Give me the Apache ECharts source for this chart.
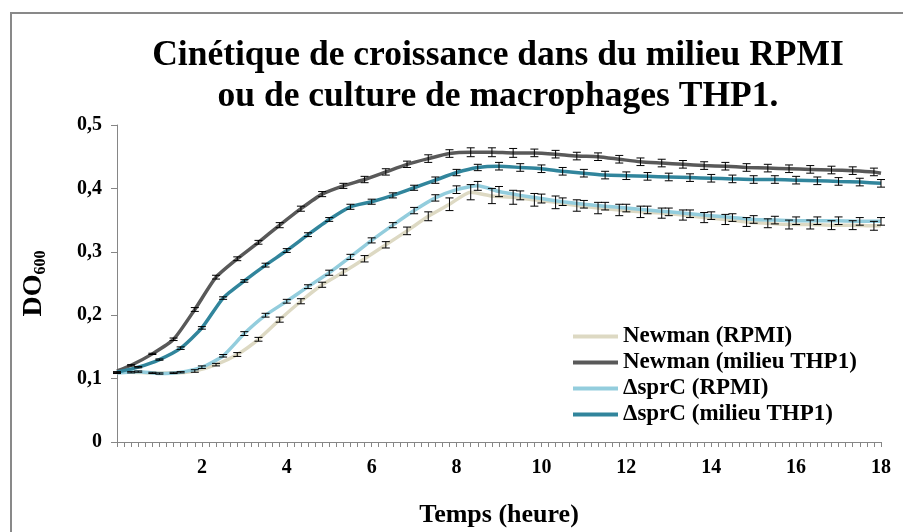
<!DOCTYPE html>
<html>
<head>
<meta charset="utf-8">
<title>Cinétique de croissance</title>
<script src="https://cdn.jsdelivr.net/npm/echarts@6/dist/echarts.min.js"></script>
<style>
  html, body { margin: 0; padding: 0; background: #ffffff; }
  #chart { width: 903px; height: 532px; }
</style>
</head>
<body>
<div id="chart"></div>
<script>
// Sampling times (minutes) at which each strain's mean and SD are reported
const MIN_NEWMAN = [0, 20, 50, 80, 110, 140, 170, 200, 230, 260, 290, 320, 350, 380, 410, 440, 470, 500, 530,
  560, 590, 620, 650, 680, 710, 740, 770, 800, 830, 860, 890, 920, 950, 980, 1010, 1040, 1070, 1080];
const MIN_SPRC = [0, 30, 60, 90, 120, 150, 180, 210, 240, 270, 300, 330, 360, 390, 420, 450, 480, 510, 540,
  570, 600, 630, 660, 690, 720, 750, 780, 810, 840, 870, 900, 930, 960, 990, 1020, 1050, 1080];

// OD600 means
const NEWMAN_RPMI = [0.110, 0.110, 0.109, 0.109, 0.112, 0.122, 0.138, 0.162, 0.193, 0.222, 0.248, 0.268, 0.289,
  0.311, 0.333, 0.356, 0.375, 0.394, 0.388, 0.386, 0.382, 0.378, 0.373, 0.369, 0.366, 0.363, 0.361, 0.358,
  0.354, 0.351, 0.347, 0.345, 0.343, 0.343, 0.342, 0.342, 0.341, 0.341];
const NEWMAN_THP1 = [0.112, 0.121, 0.139, 0.162, 0.209, 0.260, 0.289, 0.315, 0.342, 0.368, 0.391, 0.404, 0.414,
  0.426, 0.438, 0.447, 0.455, 0.457, 0.457, 0.456, 0.456, 0.454, 0.451, 0.450, 0.446, 0.442, 0.440, 0.438,
  0.436, 0.435, 0.433, 0.432, 0.431, 0.430, 0.429, 0.428, 0.426, 0.424];
const SPRC_RPMI = [0.109, 0.111, 0.108, 0.110, 0.118, 0.136, 0.171, 0.200, 0.222, 0.245, 0.267, 0.292, 0.318,
  0.342, 0.365, 0.385, 0.398, 0.404, 0.395, 0.389, 0.384, 0.379, 0.375, 0.372, 0.369, 0.366, 0.363, 0.360,
  0.357, 0.354, 0.351, 0.350, 0.349, 0.349, 0.349, 0.348, 0.348];
const SPRC_THP1 = [0.110, 0.118, 0.130, 0.148, 0.180, 0.227, 0.254, 0.279, 0.302, 0.327, 0.351, 0.371, 0.379,
  0.389, 0.401, 0.413, 0.425, 0.433, 0.435, 0.433, 0.431, 0.427, 0.424, 0.421, 0.420, 0.419, 0.418, 0.417,
  0.416, 0.415, 0.414, 0.414, 0.413, 0.412, 0.411, 0.410, 0.408];

// Standard deviations (0 = no error bar)
const NEWMAN_RPMI_SD = [0, 0.001, 0.001, 0.001, 0.002, 0.002, 0.003, 0.003, 0.004, 0.004, 0.004, 0.005, 0.005,
  0.005, 0.006, 0.007, 0.010, 0.012, 0.012, 0.011, 0.010, 0.010, 0.009, 0.009, 0.009, 0.009, 0.008, 0.008,
  0.008, 0.008, 0.007, 0.007, 0.007, 0.007, 0.007, 0.007, 0.007, 0];
const NEWMAN_THP1_SD = [0, 0.001, 0.001, 0.002, 0.003, 0.003, 0.003, 0.003, 0.004, 0.004, 0.004, 0.004, 0.005,
  0.005, 0.005, 0.006, 0.006, 0.007, 0.007, 0.007, 0.006, 0.006, 0.006, 0.006, 0.006, 0.006, 0.006, 0.006,
  0.006, 0.006, 0.006, 0.006, 0.006, 0.006, 0.006, 0.006, 0.006, 0];
const SPRC_RPMI_SD = [0.001, 0.001, 0.001, 0.001, 0.002, 0.002, 0.003, 0.003, 0.003, 0.003, 0.004, 0.004, 0.004,
  0.004, 0.005, 0.005, 0.006, 0.007, 0.008, 0.007, 0.007, 0.006, 0.006, 0.006, 0.006, 0.006, 0.006, 0.006,
  0.006, 0.006, 0.006, 0.006, 0.006, 0.006, 0.006, 0.006, 0.006];
const SPRC_THP1_SD = [0.001, 0.001, 0.001, 0.002, 0.002, 0.002, 0.002, 0.003, 0.003, 0.003, 0.003, 0.004, 0.004,
  0.004, 0.004, 0.005, 0.005, 0.005, 0.006, 0.006, 0.006, 0.006, 0.006, 0.006, 0.006, 0.006, 0.006, 0.006,
  0.006, 0.006, 0.006, 0.006, 0.006, 0.006, 0.006, 0.006, 0.006];

const X_TICKS = [2, 4, 6, 8, 10, 12, 14, 16, 18];

const SERIES_DEF = [
  { name: 'Newman (RPMI)',        color: '#ddd9c3', t: MIN_NEWMAN, v: NEWMAN_RPMI, sd: NEWMAN_RPMI_SD },
  { name: 'Newman (milieu THP1)', color: '#595959', t: MIN_NEWMAN, v: NEWMAN_THP1, sd: NEWMAN_THP1_SD },
  { name: '\u0394sprC (RPMI)',     color: '#93cddd', t: MIN_SPRC,   v: SPRC_RPMI,   sd: SPRC_RPMI_SD },
  { name: '\u0394sprC (milieu THP1)', color: '#31859c', t: MIN_SPRC, v: SPRC_THP1,  sd: SPRC_THP1_SD }
];

const FONT = '"Liberation Serif", "Times New Roman", serif';

function errorBarItem(params, api) {
  const x = api.value(0), y = api.value(1), e = api.value(2);
  if (!(e > 0)) return null;
  const top = api.coord([x, y + e]);
  const bot = api.coord([x, y - e]);
  const hw = 4;
  const st = { stroke: '#000000', lineWidth: 1 };
  return {
    type: 'group',
    children: [
      { type: 'line', shape: { x1: top[0], y1: top[1], x2: bot[0], y2: bot[1] }, style: st },
      { type: 'line', shape: { x1: top[0] - hw, y1: top[1], x2: top[0] + hw, y2: top[1] }, style: st },
      { type: 'line', shape: { x1: bot[0] - hw, y1: bot[1], x2: bot[0] + hw, y2: bot[1] }, style: st }
    ]
  };
}

const series = [];
SERIES_DEF.forEach(function (s) {
  series.push({
    name: s.name,
    type: 'line',
    data: s.t.map(function (m, i) { return [m / 60, s.v[i]]; }),
    showSymbol: false,
    smooth: 0.2,
    lineStyle: { color: s.color, width: 3.5 },
    itemStyle: { color: s.color },
    z: 2,
    silent: true
  });
});
SERIES_DEF.forEach(function (s) {
  series.push({
    type: 'custom',
    renderItem: errorBarItem,
    data: s.t.map(function (m, i) { return [m / 60, s.v[i], s.sd[i]]; }),
    encode: { x: 0, y: 1 },
    z: 3,
    silent: true
  });
});

const chart = echarts.init(document.getElementById('chart'), null, { renderer: 'canvas' });
chart.setOption({
  backgroundColor: '#ffffff',
  animation: false,
  title: {
    text: 'Cinétique de croissance dans du milieu RPMI\nou de culture de macrophages THP1.',
    left: 493,
    top: 30,
    textAlign: 'center',
    textStyle: { fontFamily: FONT, fontWeight: 'bold', fontSize: 35.5, lineHeight: 41, color: '#000000' }
  },
  graphic: [{
    type: 'rect',
    shape: { x: 11, y: 13, width: 910, height: 540 },
    style: { fill: 'none', stroke: '#898989', lineWidth: 2 },
    silent: true
  }],
  legend: {
    orient: 'vertical',
    left: 568,
    top: 320,
    icon: 'rect',
    itemWidth: 45,
    itemHeight: 4,
    itemGap: 3,
    textStyle: { fontFamily: FONT, fontWeight: 'bold', fontSize: 23, lineHeight: 23, color: '#000000' },
    data: SERIES_DEF.map(function (s) { return s.name; })
  },
  grid: { left: 117, right: 22, top: 125, bottom: 90, containLabel: false, outerBoundsMode: 'none' },
  xAxis: {
    type: 'value',
    min: 0,
    max: 18,
    interval: 2,
    name: 'Temps (heure)',
    nameLocation: 'middle',
    nameGap: 60,
    nameTextStyle: { fontFamily: FONT, fontWeight: 'bold', fontSize: 26, color: '#000000' },
    axisLine: { show: true, lineStyle: { color: '#868686', width: 1 } },
    axisTick: { show: true, length: 5, lineStyle: { color: '#868686' } },
    minorTick: { show: true, splitNumber: 12, length: 5, lineStyle: { color: '#868686' } },
    splitLine: { show: false },
    axisLabel: {
      margin: 16,
      fontFamily: FONT, fontWeight: 'bold', fontSize: 20, color: '#000000',
      formatter: function (v) { return X_TICKS.indexOf(v) >= 0 ? String(v) : ''; }
    }
  },
  yAxis: {
    type: 'value',
    min: 0,
    max: 0.5,
    interval: 0.1,
    name: '{a|DO}{s|600}',
    nameLocation: 'middle',
    nameRotate: 90,
    nameGap: 68,
    nameTextStyle: {
      rich: {
        a: { fontFamily: FONT, fontWeight: 'bold', fontSize: 28, lineHeight: 30, color: '#000000', verticalAlign: 'middle' },
        s: { fontFamily: FONT, fontWeight: 'bold', fontSize: 16, lineHeight: 15, color: '#000000', verticalAlign: 'bottom' }
      }
    },
    axisLine: { show: true, lineStyle: { color: '#868686', width: 1 } },
    axisTick: { show: true, length: 6, lineStyle: { color: '#868686' } },
    splitLine: { show: false },
    axisLabel: {
      margin: 15,
      fontFamily: FONT, fontWeight: 'bold', fontSize: 20, color: '#000000',
      formatter: function (v) { return String(Math.round(v * 10) / 10).replace('.', ','); }
    }
  },
  series: series
});
</script>
</body>
</html>
